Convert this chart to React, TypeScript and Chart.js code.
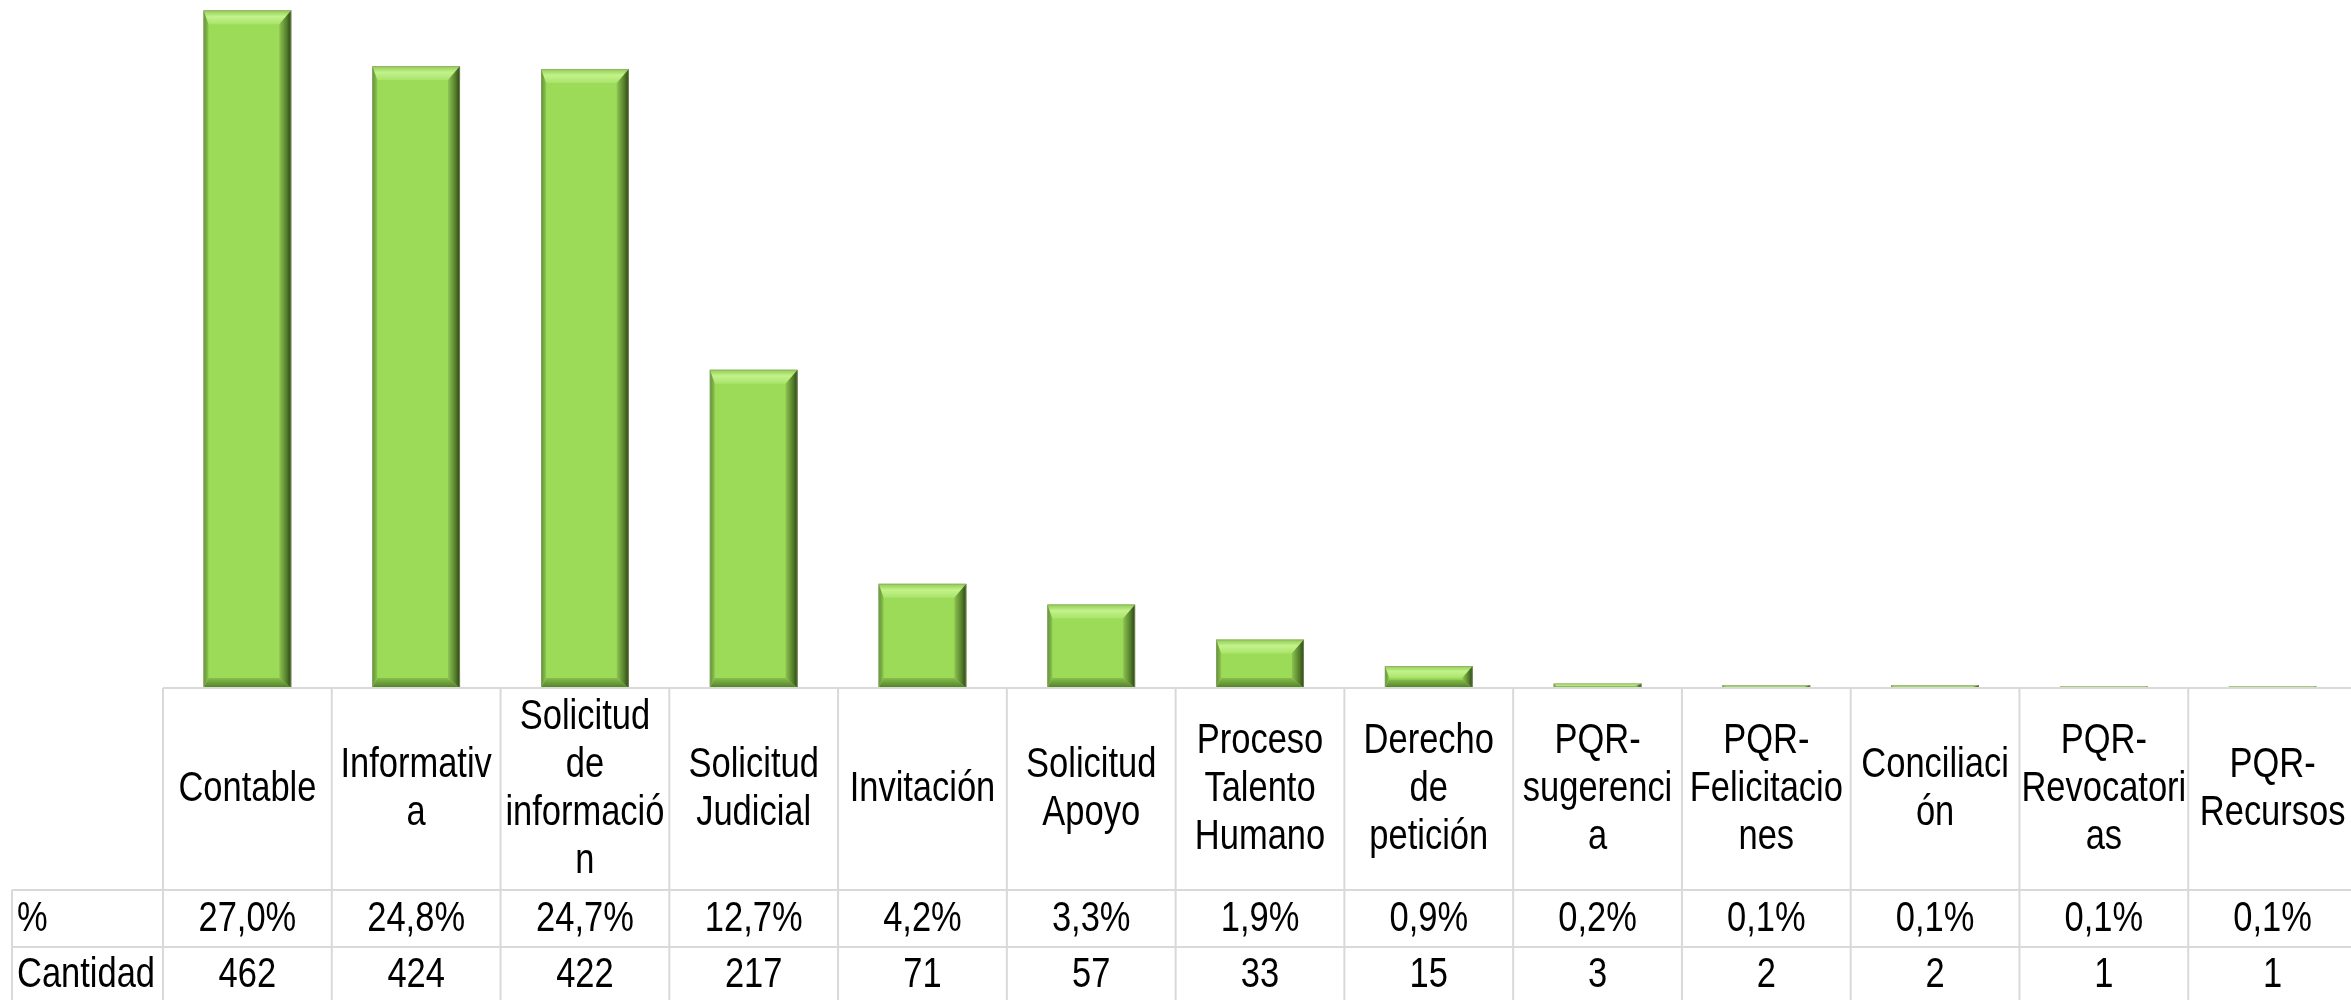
import React, { useEffect, useRef } from "react";
import { Chart, registerables } from "chart.js";

Chart.register(...registerables);

const categories: string[][] = [
  ["Contable"],
  ["Informativ", "a"],
  ["Solicitud", "de", "informació", "n"],
  ["Solicitud", "Judicial"],
  ["Invitación"],
  ["Solicitud", "Apoyo"],
  ["Proceso", "Talento", "Humano"],
  ["Derecho", "de", "petición"],
  ["PQR-", "sugerenci", "a"],
  ["PQR-", "Felicitacio", "nes"],
  ["Conciliaci", "ón"],
  ["PQR-", "Revocatori", "as"],
  ["PQR-", "Recursos"],
];
const cantidad: number[] = [462, 424, 422, 217, 71, 57, 33, 15, 3, 2, 2, 1, 1];
const porcentaje: string[] = [
  "27,0%", "24,8%", "24,7%", "12,7%", "4,2%", "3,3%", "1,9%", "0,9%", "0,2%", "0,1%", "0,1%", "0,1%", "0,1%",
];
const rowLabels: string[] = ["%", "Cantidad"];

const FONT_SIZE = 42;

function pickFont(ctx: CanvasRenderingContext2D): { font: string; sx: number } {
  const narrow = `${FONT_SIZE}px "Liberation Sans Narrow", "Arial Narrow"`;
  ctx.font = narrow;
  const w = ctx.measureText("Contable").width;
  if (w > 125 && w < 150) return { font: narrow + ", sans-serif", sx: 1 };
  const reg = `${FONT_SIZE}px "Liberation Sans", Arial, sans-serif`;
  ctx.font = reg;
  const w2 = ctx.measureText("Contable").width;
  return { font: reg, sx: 138 / w2 };
}

function drawText(ctx: CanvasRenderingContext2D, f: { font: string; sx: number }, text: string, x: number, y: number, align: CanvasTextAlign) {
  ctx.save();
  ctx.font = f.font;
  ctx.textAlign = align;
  ctx.textBaseline = "middle";
  ctx.fillStyle = "#000000";
  ctx.translate(x, y);
  ctx.scale(f.sx, 1);
  ctx.fillText(text, 0, 0);
  ctx.restore();
}

const bevelPlugin = {
  id: "bevel",
  afterDatasetsDraw(chart: any) {
    const ctx: CanvasRenderingContext2D = chart.ctx;
    const meta = chart.getDatasetMeta(0);
    meta.data.forEach((bar: any) => {
      const { x, y, base, width } = bar.getProps(["x", "y", "base", "width"], true);
      const L = x - width / 2;
      const R = x + width / 2;
      const T = Math.min(y, base);
      const B = Math.max(y, base);
      const h = B - T;
      if (h <= 0) return;
      const k = Math.min(1, h / 26);
      const bt = 14 * k;
      const bb = 10 * k;
      const br = 12 * Math.max(k, 0.5);
      const bl = 5 * Math.max(k, 0.5);
      ctx.save();
      // top
      let g = ctx.createLinearGradient(0, T, 0, T + bt);
      g.addColorStop(0, "#8fcb4d");
      g.addColorStop(0.45, "#c3f28c");
      g.addColorStop(1, "#a9e46a");
      ctx.fillStyle = g;
      ctx.beginPath();
      ctx.moveTo(L, T); ctx.lineTo(R, T); ctx.lineTo(R - br, T + bt); ctx.lineTo(L + bl, T + bt); ctx.closePath();
      ctx.fill();
      // bottom
      g = ctx.createLinearGradient(0, B - bb, 0, B);
      g.addColorStop(0, "#86bd4b");
      g.addColorStop(1, "#4f7d28");
      ctx.fillStyle = g;
      ctx.beginPath();
      ctx.moveTo(L, B); ctx.lineTo(R, B); ctx.lineTo(R - br, B - bb); ctx.lineTo(L + bl, B - bb); ctx.closePath();
      ctx.fill();
      // left
      g = ctx.createLinearGradient(L, 0, L + bl, 0);
      g.addColorStop(0, "#5f8f32");
      g.addColorStop(1, "#8cc650");
      ctx.fillStyle = g;
      ctx.beginPath();
      ctx.moveTo(L, T); ctx.lineTo(L + bl, T + bt); ctx.lineTo(L + bl, B - bb); ctx.lineTo(L, B); ctx.closePath();
      ctx.fill();
      // right
      g = ctx.createLinearGradient(R - br, 0, R, 0);
      g.addColorStop(0, "#8dc452");
      g.addColorStop(0.6, "#55802c");
      g.addColorStop(1, "#2c4314");
      ctx.fillStyle = g;
      ctx.beginPath();
      ctx.moveTo(R, T); ctx.lineTo(R, B); ctx.lineTo(R - br, B - bb); ctx.lineTo(R - br, T + bt); ctx.closePath();
      ctx.fill();
      // thin outline
      ctx.strokeStyle = "rgba(150,160,130,0.6)";
      ctx.lineWidth = 1;
      ctx.strokeRect(L + 0.5, T + 0.5, width - 1, h - 1);
      ctx.restore();
    });
  },
};

const tablePlugin = {
  id: "dataTable",
  afterDraw(chart: any) {
    const ctx: CanvasRenderingContext2D = chart.ctx;
    const area = chart.chartArea;
    const xs = chart.scales.x;
    const n = categories.length;
    const colW = (area.right - area.left) / n;
    const top = area.bottom;
    const headerBottom = top + 202;
    const pctBottom = headerBottom + 57;
    const bottom = chart.height;
    const labelLeft = 12;
    const f = pickFont(ctx);

    ctx.save();
    ctx.strokeStyle = "#d9d9d9";
    ctx.lineWidth = 2;
    ctx.beginPath();
    ctx.moveTo(area.left, top); ctx.lineTo(area.right, top);
    ctx.moveTo(labelLeft, headerBottom); ctx.lineTo(area.right, headerBottom);
    ctx.moveTo(labelLeft, pctBottom); ctx.lineTo(area.right, pctBottom);
    ctx.moveTo(labelLeft, headerBottom); ctx.lineTo(labelLeft, bottom);
    for (let i = 0; i <= n; i++) {
      const xx = area.left + i * colW;
      ctx.moveTo(xx, top); ctx.lineTo(xx, bottom);
    }
    ctx.stroke();
    ctx.restore();

    const headerCenter = (top + headerBottom) / 2;
    const pctCenter = (headerBottom + pctBottom) / 2 + 0.5;
    const cantCenter = pctBottom + 28;
    const lh = 48;
    for (let i = 0; i < n; i++) {
      const cx = xs.getPixelForValue(i);
      const lines = categories[i];
      lines.forEach((ln, j) => {
        drawText(ctx, f, ln, cx, headerCenter + (j - (lines.length - 1) / 2) * lh, "center");
      });
      drawText(ctx, f, porcentaje[i], cx, pctCenter, "center");
      drawText(ctx, f, String(cantidad[i]), cx, cantCenter, "center");
    }
    drawText(ctx, f, rowLabels[0], 17, pctCenter, "left");
    drawText(ctx, f, rowLabels[1], 17, cantCenter, "left");
  },
};

export default function App() {
  const ref = useRef<HTMLCanvasElement | null>(null);
  useEffect(() => {
    if (!ref.current) return;
    const chart = new Chart(ref.current, {
      type: "bar",
      data: {
        labels: categories.map((c) => c.join(" ")),
        datasets: [
          {
            data: cantidad,
            backgroundColor: "#9cdb58",
            borderWidth: 0,
            categoryPercentage: 1,
            barPercentage: 0.52,
          },
        ],
      },
      options: {
        responsive: false,
        animation: false,
        devicePixelRatio: 1,
        layout: { padding: { left: 163, right: 0, top: 0, bottom: 312 } },
        plugins: { legend: { display: false }, tooltip: { enabled: false }, title: { display: false } },
        scales: {
          x: { display: false, offset: true },
          y: { display: false, min: 0, max: 469 },
        },
      },
      plugins: [bevelPlugin, tablePlugin],
    });
    return () => chart.destroy();
  }, []);
  return (
    <div style={{ position: "absolute", left: 0, top: 0, width: 2351, height: 1000, overflow: "hidden", background: "#fff" }}>
      <canvas ref={ref} width={2357} height={1000} style={{ display: "block", width: 2357, height: 1000 }} />
    </div>
  );
}
